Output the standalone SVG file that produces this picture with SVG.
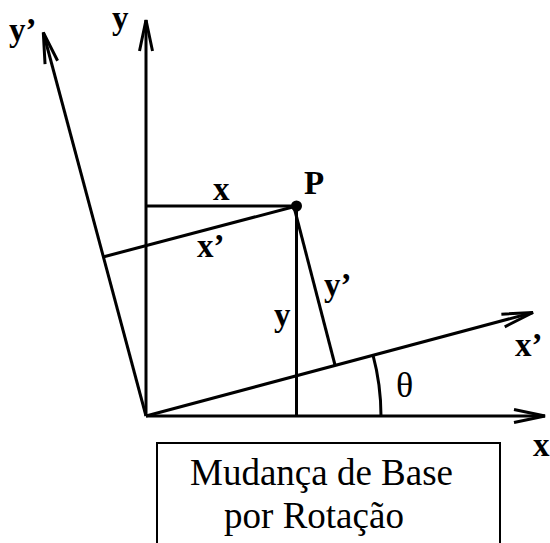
<svg xmlns="http://www.w3.org/2000/svg" width="550" height="543" viewBox="0 0 550 543">
  <style>
    .ln { stroke: #000; stroke-width: 3; fill: none; stroke-linecap: butt; }
    .ax { stroke: #000; stroke-width: 3; fill: none; marker-end: url(#arr); }
    .lbl { font-family: "Liberation Serif", "Times New Roman", serif; font-weight: bold; font-size: 33px; fill: #000; }
    .cap { font-family: "Liberation Serif", "Times New Roman", serif; font-size: 37px; fill: #000; text-anchor: middle; }
  </style>
  <defs>
    <marker id="arr" markerUnits="userSpaceOnUse" markerWidth="40" markerHeight="20" viewBox="-34 -10 40 20" refX="0" refY="0" orient="auto">
      <path d="M -31 -6.5 L 0 0 L -31 6.5" stroke="#000" stroke-width="3" fill="none" stroke-linejoin="miter"/>
    </marker>
  </defs>
  <rect width="550" height="543" fill="#fff"/>

  <g id="connectors">
    <line id="x-axis" class="ax" x1="146" y1="416" x2="545" y2="416"/>
    <line id="y-axis" class="ax" x1="146" y1="416" x2="146" y2="20"/>
    <line id="xp-axis" class="ax" x1="146" y1="416" x2="533" y2="312.5"/>
    <line id="yp-axis" class="ax" x1="146" y1="416" x2="43.3" y2="32.5"/>
    <line class="ln" x1="146" y1="206" x2="296.5" y2="206"/>
    <line class="ln" x1="296.5" y1="206" x2="296.5" y2="416"/>
    <line class="ln" x1="103" y1="257" x2="296.5" y2="206"/>
    <line class="ln" x1="294" y1="207" x2="335" y2="365"/>
    <path class="ln" d="M 381 416 A 235 235 0 0 0 373 355.2"/>
  </g>

  <g id="P">
    <circle cx="296.5" cy="206" r="5.5" fill="#000"/>
    <text class="lbl" x="304" y="194" font-size="36">P</text>
  </g>

  <g id="labels">
    <text class="lbl" x="9" y="41">y’</text>
    <text class="lbl" x="112" y="29">y</text>
    <text class="lbl" x="213" y="200">x</text>
    <text class="lbl" x="197" y="257">x’</text>
    <text class="lbl" x="274" y="326">y</text>
    <text class="lbl" x="324" y="296">y’</text>
    <text class="lbl" x="515" y="356">x’</text>
    <text class="lbl" x="533" y="456">x</text>
    <text x="396" y="397" font-family="Liberation Serif, Times New Roman, serif" font-size="36">θ</text>
  </g>

  <g id="caption">
    <rect x="157" y="443" width="343" height="130" fill="none" stroke="#000" stroke-width="2"/>
    <text class="cap" x="321.5" y="485">Mudança de Base</text>
    <text class="cap" x="314" y="528">por Rotação</text>
  </g>
</svg>
